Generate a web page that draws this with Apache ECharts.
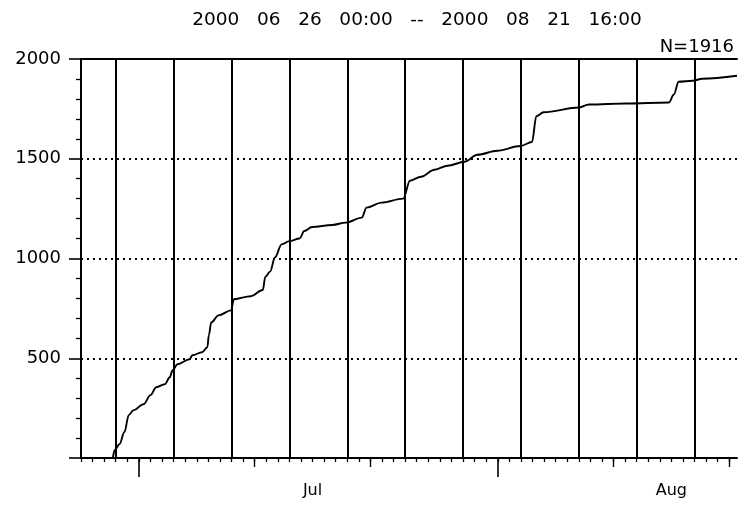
<!DOCTYPE html>
<html>
<head>
<meta charset="utf-8">
<script src="https://cdn.jsdelivr.net/npm/echarts@6/dist/echarts.min.js"></script>
<style>
  html, body { margin: 0; padding: 0; background: #fff; }
  #chart { width: 751px; height: 508px; }
</style>
</head>
<body>
<div id="chart"></div>
<script>
// Observation period and event total
const periodStart = '2000   06   26   00:00';
const periodEnd = '2000   08   21   16:00';
const totalCount = 1916;

// Cumulative event count (time as MM-DD HH:mm, year 2000)
const obsTimes = [
  '06-28 18:00', '06-28 22:00', '06-29 08:00', '06-29 18:00', '06-30 03:00',
  '06-30 13:00', '07-01 10:00', '07-02 00:00', '07-02 12:00', '07-03 06:00',
  '07-03 16:00', '07-03 22:00', '07-04 08:00', '07-05 09:00', '07-05 15:00',
  '07-06 11:00', '07-06 22:00', '07-07 01:00', '07-07 06:00', '07-07 21:00',
  '07-08 23:00', '07-09 05:00', '07-10 16:00', '07-11 17:00', '07-11 22:00',
  '07-12 08:00', '07-12 18:00', '07-13 08:00', '07-14 00:00', '07-14 21:00',
  '07-15 07:00', '07-15 23:00', '07-17 17:00', '07-18 21:00', '07-20 06:00',
  '07-20 16:00', '07-21 23:00', '07-23 20:00', '07-24 10:00', '07-25 09:00',
  '07-26 13:00', '07-27 16:00', '07-29 03:00', '07-30 06:00', '07-31 23:00',
  '08-02 23:00', '08-03 23:00', '08-04 08:00', '08-04 23:00', '08-08 01:00',
  '08-08 21:00', '08-12 02:00', '08-15 19:00', '08-16 05:00', '08-16 15:00',
  '08-17 20:00', '08-18 16:00', '08-21 16:00'
];
const cumCounts = [
  0, 40, 70, 130, 215,
  240, 270, 315, 355, 370,
  405, 440, 470, 495, 515,
  530, 555, 615, 680, 715,
  740, 796, 811, 842, 908,
  934, 1005, 1071, 1087, 1100,
  1138, 1158, 1168, 1180, 1205,
  1255, 1280, 1300, 1390, 1410,
  1445, 1465, 1485, 1520, 1540,
  1564, 1584, 1713, 1733, 1757,
  1772, 1777, 1782, 1822, 1886,
  1891, 1901, 1916
];

// Time axis furniture
const axisStart = '06-26 00:00';
const axisEnd = '08-21 16:00';
const monthNames = ['Jul', 'Aug'];
const monthNameDates = ['07-16', '08-16'];
const monthStartDates = ['07-01', '08-01'];
const tenDayDates = ['07-11', '07-21', '08-11', '08-21'];
const fiveDayLines = ['06-29', '07-04', '07-09', '07-14', '07-19', '07-24',
                      '07-29', '08-03', '08-08', '08-13', '08-18'];

// Count axis
const countMax = 2000;
const countStep = 500;
const countLevels = [500, 1000, 1500];

// Day number of the 1st of each month, counted from Jun 26 00:00
const firstOfMonth = { 6: -25, 7: 5, 8: 36 };
function toDay(s) {
  const parts = s.split(' ');
  const md = parts[0].split('-').map(Number);
  const hm = (parts[1] || '00:00').split(':').map(Number);
  return firstOfMonth[md[0]] + (md[1] - 1) + (hm[0] + hm[1] / 60) / 24;
}

const xMin = toDay(axisStart);
const xMax = toDay(axisEnd);
const dailyTicks = [];
for (let d = Math.ceil(xMin); d <= xMax; d++) dailyTicks.push(d);
const nameDays = monthNameDates.map(toDay);

const ink = '#000';
const family = '"DejaVu Sans", "Liberation Sans", sans-serif';

const xBase = {
  type: 'value', min: xMin, max: xMax, position: 'bottom',
  splitLine: { show: false },
  axisLine: { show: false },
  axisLabel: { show: false }
};

const chart = echarts.init(document.getElementById('chart'), null, { renderer: 'canvas' });
chart.setOption({
  animation: false,
  backgroundColor: '#fff',
  title: [
    {
      text: periodStart + '   --   ' + periodEnd,
      left: 417, top: 11, textAlign: 'center', padding: 0,
      textStyle: { fontSize: 18.5, fontWeight: 'normal', fontFamily: family, color: ink }
    },
    {
      text: 'N=' + totalCount,
      right: 17, top: 38, padding: 0,
      textStyle: { fontSize: 18, fontWeight: 'normal', fontFamily: family, color: ink }
    }
  ],
  grid: { left: 81, right: 14, top: 59, bottom: 50, containLabel: false },
  xAxis: [
    Object.assign({}, xBase, {
      axisLine: { show: true, lineStyle: { color: ink, width: 2 } },
      axisTick: { show: true, inside: false, length: 4, customValues: dailyTicks,
                  lineStyle: { color: ink, width: 1.3 } },
      axisLabel: {
        show: true, customValues: nameDays, margin: 25,
        color: ink, fontSize: 16, fontFamily: family,
        formatter: function (v) {
          const i = nameDays.findIndex(function (n) { return Math.abs(n - v) < 1e-6; });
          return i >= 0 ? monthNames[i] : '';
        }
      }
    }),
    Object.assign({}, xBase, {
      axisTick: { show: true, inside: false, length: 9, customValues: tenDayDates.map(toDay),
                  lineStyle: { color: ink, width: 1.4 } }
    }),
    Object.assign({}, xBase, {
      axisTick: { show: true, inside: false, length: 19, customValues: monthStartDates.map(toDay),
                  lineStyle: { color: ink, width: 1.6 } }
    }),
    Object.assign({}, xBase, {
      position: 'top',
      axisLine: { show: true, lineStyle: { color: ink, width: 2 } },
      axisTick: { show: false }
    })
  ],
  yAxis: [
    {
      type: 'value', min: 0, max: countMax, interval: countStep, position: 'left',
      splitLine: { show: false },
      axisLine: { show: true, lineStyle: { color: ink, width: 2 } },
      axisTick: { show: true, inside: false, length: 12, lineStyle: { color: ink, width: 1.6 } },
      minorTick: { show: true, splitNumber: 5, length: 5, lineStyle: { color: ink, width: 1.3 } },
      axisLabel: {
        color: ink, fontSize: 18, fontFamily: family, margin: 20,
        formatter: function (v) { return v === 0 ? '' : String(v); }
      }
    },
    {
      type: 'value', min: 0, max: countMax, position: 'right',
      splitLine: { show: false },
      axisLine: { show: true, lineStyle: { color: ink, width: 2 } },
      axisTick: { show: false },
      axisLabel: { show: false }
    }
  ],
  series: [
    {
      type: 'line',
      xAxisIndex: 0, yAxisIndex: 0,
      data: obsTimes.map(function (t, i) { return [toDay(t), cumCounts[i]]; }),
      showSymbol: false,
      smooth: 0.35,
      smoothMonotone: 'x',
      lineStyle: { color: ink, width: 1.9 },
      z: 3,
      markLine: {
        silent: true, symbol: 'none', animation: false,
        label: { show: false },
        data: fiveDayLines.map(function (d) {
          return { xAxis: toDay(d), lineStyle: { color: ink, width: 2, type: 'solid' } };
        }).concat(countLevels.map(function (v) {
          return { yAxis: v, lineStyle: { color: ink, width: 1.8, type: [2, 4] } };
        }))
      }
    }
  ]
});
</script>
</body>
</html>
